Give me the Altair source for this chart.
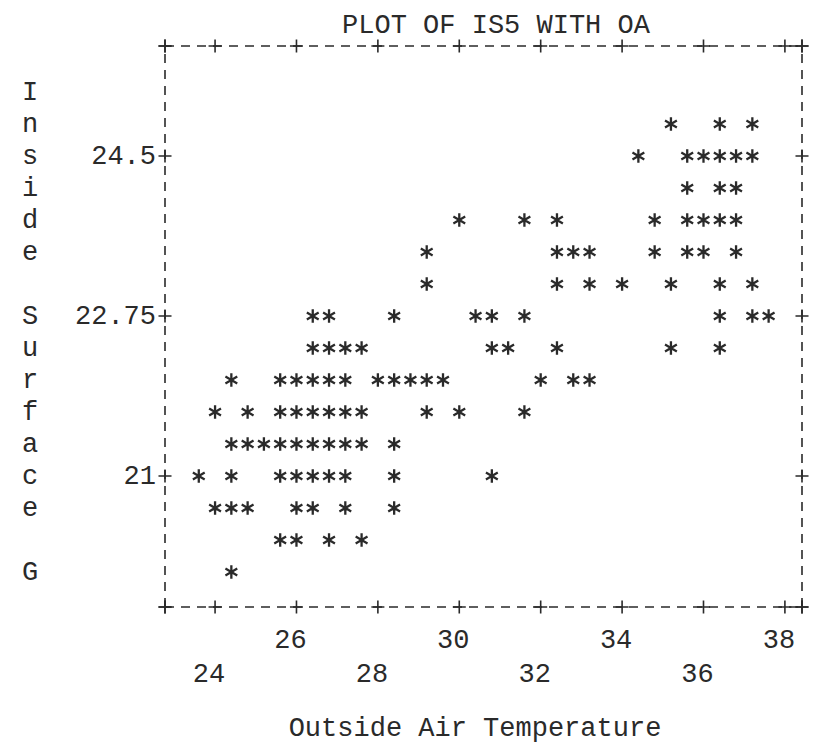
import altair as alt
import pandas as pd

# ---------------- data ----------------
TITLE = "PLOT OF IS5 WITH OA"
X_TITLE = "Outside Air Temperature"
Y_TITLE = "Inside Surface G"          # printed one character per line
X_TICKS = [24, 26, 28, 30, 32, 34, 36, 38]
Y_TICKS = [24.5, 22.75, 21]
Y_TICK_LABELS = ["24.5", "22.75", "21"]

# printed rows (IS5 value of each print line) and the OA values of the '*' on it
ROW_IS5 = [24.85, 24.5, 24.15, 23.8, 23.45, 23.1, 22.75, 22.4, 22.05,
           21.7, 21.35, 21.0, 20.65, 20.3, 19.95]
ROW_OA = [
    [35.2, 36.4, 37.2],
    [34.4, 35.6, 36.0, 36.4, 36.8, 37.2],
    [35.6, 36.4, 36.8],
    [30.0, 31.6, 32.4, 34.8, 35.6, 36.0, 36.4, 36.8],
    [29.2, 32.4, 32.8, 33.2, 34.8, 35.6, 36.0, 36.8],
    [29.2, 32.4, 33.2, 34.0, 35.2, 36.4, 37.2],
    [26.4, 26.8, 28.4, 30.4, 30.8, 31.6, 36.4, 37.2, 37.6],
    [26.4, 26.8, 27.2, 27.6, 30.8, 31.2, 32.4, 35.2, 36.4],
    [24.4, 25.6, 26.0, 26.4, 26.8, 27.2, 28.0, 28.4, 28.8, 29.2, 29.6, 32.0, 32.8, 33.2],
    [24.0, 24.8, 25.6, 26.0, 26.4, 26.8, 27.2, 27.6, 29.2, 30.0, 31.6],
    [24.4, 24.8, 25.2, 25.6, 26.0, 26.4, 26.8, 27.2, 27.6, 28.4],
    [23.6, 24.4, 25.6, 26.0, 26.4, 26.8, 27.2, 28.4, 30.8],
    [24.0, 24.4, 24.8, 26.0, 26.4, 27.2, 28.4],
    [25.6, 26.0, 26.8, 27.6],
    [24.4],
]

# frame of the printed plot (edges of the dashed box)
X_DOMAIN = [22.77, 38.42]
Y_DOMAIN = [19.567, 25.703]
LINE_STEP = 0.35        # IS5 per printed line
FIRST_LINE = 25.2       # IS5 value of the first printed line

# ---------------- build tables ----------------
pts = pd.DataFrame(
    [(x, y) for y, xs in zip(ROW_IS5, ROW_OA) for x in xs], columns=["OA", "IS5"]
)

x0, x1 = X_DOMAIN
y0, y1 = Y_DOMAIN
border = pd.DataFrame(
    {"x": [x0, x0, x0, x1], "x2": [x1, x1, x0, x1],
     "y": [y1, y0, y0, y0], "y2": [y1, y0, y1, y1]}
)
plus_rows = []
for t in X_TICKS + [x0, x1]:
    plus_rows += [(t, y0), (t, y1)]
for t in Y_TICKS + [y0, y1]:
    plus_rows += [(x0, t), (x1, t)]
plus = pd.DataFrame(plus_rows, columns=["x", "y"])

xt = pd.DataFrame({"t": X_TICKS, "label": [str(v) for v in X_TICKS]})
yt = pd.DataFrame({"t": Y_TICKS, "label": Y_TICK_LABELS})
letters = pd.DataFrame(
    {"ch": list(Y_TITLE),
     "y": [FIRST_LINE - LINE_STEP * i for i in range(len(Y_TITLE))]}
)
one = pd.DataFrame({"a": [0]})

XS = alt.Scale(domain=X_DOMAIN, nice=False, zero=False)
YS = alt.Scale(domain=Y_DOMAIN, nice=False, zero=False)
INK = "#2a2a2a"
FONT = "Liberation Mono"
FS = 27

STAR = "M0,-1L0,1M-0.87,-0.5L0.87,0.5M-0.87,0.5L0.87,-0.5"
PLUS = "M-1,0L1,0M0,-1L0,1"

stars = alt.Chart(pts).mark_point(
    shape=STAR, filled=False, size=185, strokeWidth=2.3, color=INK, opacity=1
).encode(
    x=alt.X("OA:Q", scale=XS, axis=None),
    y=alt.Y("IS5:Q", scale=YS, axis=None),
)

frame = alt.Chart(border).mark_rule(
    color=INK, strokeWidth=1.6, strokeDash=[9, 7]
).encode(
    x=alt.X("x:Q", scale=XS, axis=None), x2="x2:Q",
    y=alt.Y("y:Q", scale=YS, axis=None), y2="y2:Q",
)

plus_marks = alt.Chart(plus).mark_point(
    shape=PLUS, filled=False, size=170, strokeWidth=1.6, color=INK, opacity=1
).encode(
    x=alt.X("x:Q", scale=XS, axis=None),
    y=alt.Y("y:Q", scale=YS, axis=None),
)

txt = dict(font=FONT, fontSize=FS, color=INK, baseline="middle")

xlab_up = alt.Chart(xt).transform_filter("datum.t % 4 == 2").mark_text(
    align="center", dx=-6, **txt
).encode(x=alt.X("t:Q", scale=XS, axis=None), y=alt.value(594), text="label:N")

xlab_low = alt.Chart(xt).transform_filter("datum.t % 4 == 0").mark_text(
    align="center", dx=-6, **txt
).encode(x=alt.X("t:Q", scale=XS, axis=None), y=alt.value(628), text="label:N")

ylab = alt.Chart(yt).mark_text(align="right", **txt).encode(
    x=alt.value(-9), y=alt.Y("t:Q", scale=YS, axis=None), text="label:N"
)

ytitle = alt.Chart(letters).mark_text(align="center", **txt).encode(
    x=alt.value(-135), y=alt.Y("y:Q", scale=YS, axis=None), text="ch:N"
)

title = alt.Chart(one).mark_text(align="center", text=TITLE, **txt).encode(
    x=alt.value(331), y=alt.value(-21)
)
xtitle = alt.Chart(one).mark_text(align="center", text=X_TITLE, **txt).encode(
    x=alt.value(310), y=alt.value(682)
)

chart = alt.layer(
    frame, plus_marks, stars, xlab_up, xlab_low, ylab, ytitle, title, xtitle
).properties(
    width=637, height=561, autosize="none",
    padding={"left": 157, "top": 38, "right": 8, "bottom": 137},
    background="white",
).configure_view(stroke=None)

chart.save("out.html", embed_options={"renderer": "svg", "actions": False})
